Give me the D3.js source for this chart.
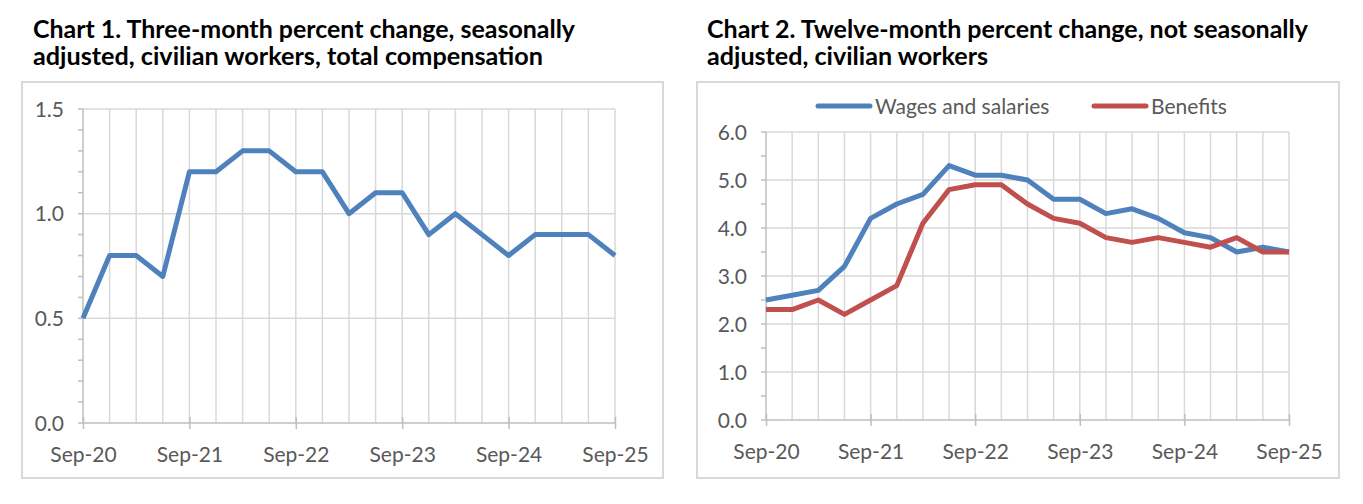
<!DOCTYPE html>
<html>
<head>
<meta charset="utf-8">
<script src="https://cdn.jsdelivr.net/npm/d3@7"></script>
<style>
    body { margin: 0; background: #ffffff; }
    svg { display: block; font-family: Lato, "Noto Sans", sans-serif; }
</style>
</head>
<body>
<div id="container"></div>
<script>
// quarterly observations, Sep-20 .. Sep-25
let quarters = ["Sep-20", "Dec-20", "Mar-21", "Jun-21", "Sep-21", "Dec-21", "Mar-22", "Jun-22",
    "Sep-22", "Dec-22", "Mar-23", "Jun-23", "Sep-23", "Dec-23", "Mar-24", "Jun-24",
    "Sep-24", "Dec-24", "Mar-25", "Jun-25", "Sep-25"];
let yearLabels = ["Sep-20", "Sep-21", "Sep-22", "Sep-23", "Sep-24", "Sep-25"];

// chart 1
let totalComp = [0.5, 0.8, 0.8, 0.7, 1.2, 1.2, 1.3, 1.3, 1.2, 1.2, 1.0, 1.1, 1.1, 0.9, 1.0, 0.9,
    0.8, 0.9, 0.9, 0.9, 0.8];
let chart1Ticks = [0, 0.5, 1.0, 1.5];
let chart1Minor = d3.range(0, 1.501, 0.1);

// chart 2
let wages = [2.5, 2.6, 2.7, 3.2, 4.2, 4.5, 4.7, 5.3, 5.1, 5.1, 5.0, 4.6, 4.6, 4.3, 4.4, 4.2,
    3.9, 3.8, 3.5, 3.6, 3.5];
let benefits = [2.3, 2.3, 2.5, 2.2, 2.5, 2.8, 4.1, 4.8, 4.9, 4.9, 4.5, 4.2, 4.1, 3.8, 3.7, 3.8,
    3.7, 3.6, 3.8, 3.5, 3.5];
let chart2Ticks = [0, 1, 2, 3, 4, 5, 6];
let chart2Minor = d3.range(0, 6.01, 0.5);

let seriesNames = ["Wages and salaries", "Benefits"];

let blue = "#4f81bd";
let red = "#c0504d";
let gridColor = "#d9d9d9";
let axisColor = "#bfbfbf";
let labelColor = "#595959";

let svg = d3.select("#container")
    .append("svg")
    .attr("width", 1363)
    .attr("height", 504);

/**
 * Draws one framed line chart.
 */
function lineChart(opt) {
    let g = svg.append("g");

    // title, two lines
    opt.title.forEach((t, i) => {
        g.append("text")
            .attr("x", opt.titleX)
            .attr("y", 38 + i * 27)
            .attr("font-size", 24)
            .attr("font-weight", "bold")
            .attr("fill", "#000")
            .attr("textLength", opt.titleWidths[i])
            .attr("lengthAdjust", "spacingAndGlyphs")
            .text(t);
    });

    // frame
    g.append("rect")
        .attr("x", opt.box.x)
        .attr("y", opt.box.y)
        .attr("width", opt.box.w)
        .attr("height", opt.box.h)
        .attr("fill", "none")
        .attr("stroke", gridColor)
        .attr("stroke-width", 2);

    let x = d3.scalePoint()
        .domain(quarters)
        .range([opt.left, opt.right]);

    let y = d3.scaleLinear()
        .domain(opt.yDomain)
        .range([opt.bottom, opt.top]);

    // vertical grid at every quarter
    g.selectAll(".vgrid")
        .data(quarters.slice(1))
        .join("line")
        .attr("x1", d => x(d))
        .attr("x2", d => x(d))
        .attr("y1", opt.top)
        .attr("y2", opt.bottom)
        .attr("stroke", gridColor)
        .attr("stroke-width", 1.5);

    // horizontal grid
    g.selectAll(".hgrid")
        .data(opt.ticks.slice(1))
        .join("line")
        .attr("x1", opt.left)
        .attr("x2", opt.right)
        .attr("y1", d => y(d))
        .attr("y2", d => y(d))
        .attr("stroke", gridColor)
        .attr("stroke-width", 1.5);

    // y axis line and minor ticks
    g.append("line")
        .attr("x1", opt.left).attr("x2", opt.left)
        .attr("y1", opt.top).attr("y2", opt.bottom)
        .attr("stroke", axisColor)
        .attr("stroke-width", 1.5);

    g.selectAll(".ytick")
        .data(opt.minor)
        .join("line")
        .attr("x1", opt.left - 5)
        .attr("x2", opt.left)
        .attr("y1", d => y(d))
        .attr("y2", d => y(d))
        .attr("stroke", axisColor)
        .attr("stroke-width", 1.5);

    g.selectAll(".ylabel")
        .data(opt.ticks)
        .join("text")
        .attr("x", opt.left - 19)
        .attr("y", d => y(d))
        .attr("dy", "0.36em")
        .attr("text-anchor", "end")
        .attr("font-size", 21)
        .attr("fill", labelColor)
        .text(d => d.toFixed(1));

    // x axis, cross ticks at each September
    let xAxis = g.append("g")
        .attr("transform", `translate(0,${opt.bottom})`)
        .call(d3.axisBottom(x).tickValues(yearLabels).tickSize(6).tickPadding(18));

    xAxis.select(".domain")
        .attr("stroke", axisColor)
        .attr("stroke-width", 1.5)
        .attr("d", `M${opt.left},0H${opt.right}`);

    xAxis.selectAll(".tick line")
        .attr("y1", -6)
        .attr("y2", 6)
        .attr("stroke", axisColor)
        .attr("stroke-width", 1.5);

    xAxis.selectAll(".tick text")
        .attr("font-family", "Lato, 'Noto Sans', sans-serif")
        .attr("font-size", 21)
        .attr("fill", labelColor);

    // lines
    let line = d3.line()
        .x((d, i) => x(quarters[i]))
        .y(d => y(d));

    opt.series.forEach(s => {
        g.append("path")
            .datum(s.values)
            .attr("d", line)
            .attr("fill", "none")
            .attr("stroke", s.color)
            .attr("stroke-width", 5)
            .attr("stroke-linejoin", "round");
    });

    return g;
}

lineChart({
    title: ["Chart 1. Three-month percent change, seasonally",
        "adjusted, civilian workers, total compensation"],
    titleX: 33,
    titleWidths: [542, 510],
    box: {x: 22, y: 82, w: 641, h: 396},
    left: 83, right: 615, top: 109, bottom: 423,
    yDomain: [0, 1.5],
    ticks: chart1Ticks,
    minor: chart1Minor,
    series: [{values: totalComp, color: blue}]
});

let g2 = lineChart({
    title: ["Chart 2. Twelve-month percent change, not seasonally",
        "adjusted, civilian workers"],
    titleX: 707,
    titleWidths: [601, 281],
    box: {x: 697, y: 82, w: 642, h: 396},
    left: 766, right: 1289, top: 132, bottom: 420,
    yDomain: [0, 6],
    ticks: chart2Ticks,
    minor: chart2Minor,
    series: [{values: wages, color: blue}, {values: benefits, color: red}]
});

// legend
let legend = [
    {name: seriesNames[0], color: blue, x: 818},
    {name: seriesNames[1], color: red, x: 1094}
];

legend.forEach(l => {
    g2.append("line")
        .attr("x1", l.x).attr("x2", l.x + 52)
        .attr("y1", 106).attr("y2", 106)
        .attr("stroke", l.color)
        .attr("stroke-width", 5)
        .attr("stroke-linecap", "round");

    g2.append("text")
        .attr("x", l.x + 57)
        .attr("y", 106)
        .attr("dy", "0.36em")
        .attr("font-size", 21)
        .attr("fill", labelColor)
        .text(l.name);
});
</script>
</body>
</html>
